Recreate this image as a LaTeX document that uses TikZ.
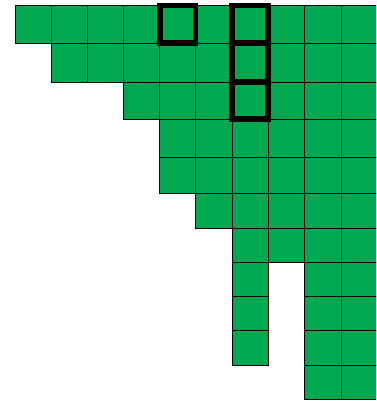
\documentclass[tikz,border=0pt]{standalone}
\definecolor{cellgreen}{RGB}{0,168,80}
\begin{document}
\begin{tikzpicture}[x=1pt,y=-1pt,
  cell/.style={fill=cellgreen,draw=black,line width=0.9pt},
  markbox/.style={draw=black,line width=5.8pt}]
\useasboundingbox (0,0) rectangle (376,403);
\begin{scope}
\clip (0,0) rectangle (376,403);
\def\xs{{15,51,87,123,159,195.5,232,268,304.5,341,380}}
\def\ys{{5,43,82,119,157,193,228,262,296,330,365,399}}
\foreach \r/\cols in {0/{0,1,2,3,4,5,6,7,8,9},
                      1/{1,2,3,4,5,6,7,8,9},
                      2/{3,4,5,6,7,8,9},
                      3/{4,5,6,7,8,9},
                      4/{4,5,6,7,8,9},
                      5/{5,6,7,8,9},
                      6/{6,7,8,9},
                      7/{6,8,9},
                      8/{6,8,9},
                      9/{6,8,9},
                      10/{8,9}}{
  \foreach \c in \cols {
    \pgfmathsetmacro\xa{\xs[\c]}
    \pgfmathsetmacro\xb{\xs[\c+1]}
    \pgfmathsetmacro\ya{\ys[\r]}
    \pgfmathsetmacro\yb{\ys[\r+1]}
    \draw[cell] (\xa,\ya) rectangle (\xb,\yb);
  }
}
\end{scope}
\draw[markbox] (160,5.5) rectangle (195.5,43);
\draw[markbox] (232,5.5) rectangle (268,43);
\draw[markbox] (232,43) rectangle (268,82);
\draw[markbox] (232,82) rectangle (268,119);
\end{tikzpicture}
\end{document}
